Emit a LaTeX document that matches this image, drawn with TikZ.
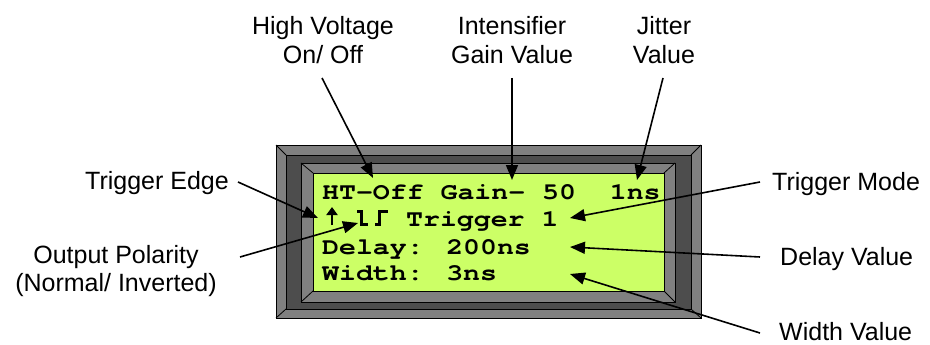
\documentclass[tikz,border=0pt]{standalone}
\usepackage{fontspec}
\usepackage{graphicx}
\setmainfont{Liberation Sans}
\newfontfamily\lcdfont[Ligatures=NoCommon]{TeX Gyre Cursor}
\usetikzlibrary{arrows.meta}
\definecolor{lcdgreen}{HTML}{CCFF66}
\definecolor{bezel}{HTML}{808080}
\definecolor{bezeldark}{HTML}{4D4D4D}
\tikzset{
  lbl/.style={font=\fontsize{25}{28.5}\selectfont, align=center, inner sep=0pt},
  callout/.style={line width=1.6pt, -{Triangle[length=15pt,width=12pt]}},
  lcdtext/.style={anchor=base west, inner sep=0pt, font=\fontsize{23.5}{23.5}\lcdfont\bfseries},
  frameline/.style={draw=black, line width=0.8pt},
  glyphline/.style={line width=3pt, line cap=butt, line join=miter},
}
\newcommand{\lcdstretch}[1]{\scalebox{1.2}[1]{#1}}
\begin{document}
\begin{tikzpicture}[x=1pt,y=-1pt]
\useasboundingbox (0,0) rectangle (930,345);
% bezel
\fill[bezel] (276,145) rectangle (701,318);
\draw[frameline] (276,145) rectangle (701,318);
\fill[bezeldark] (286,155) rectangle (691,309);
\draw[frameline] (286,155) rectangle (691,309);
\draw[frameline] (276,145) -- (286,155) (701,145) -- (691,155)
  (276,318) -- (286,309) (701,318) -- (691,309);
\fill[bezel] (301,163) rectangle (675,302);
\draw[frameline] (301,163) rectangle (675,302);
\fill[lcdgreen] (313,173) rectangle (664,291);
\draw[frameline] (313,173) rectangle (664,291);
\draw[frameline] (301,163) -- (313,173) (675,163) -- (664,173)
  (301,302) -- (313,291) (675,302) -- (664,291);
% LCD text
\node[lcdtext] (lcdA) at (322,199) {\lcdstretch{HT-Off Gain- 50\ \ 1ns}};
\node[lcdtext] (lcdB) at (406,226) {\lcdstretch{Trigger 1}};
\node[lcdtext] (lcdC) at (322,254) {\lcdstretch{Delay: 200ns}};
\node[lcdtext] (lcdD) at (322,280) {\lcdstretch{Width: 3ns}};
% edge arrow glyph and pulse glyph
\coordinate (edgeLo) at (332,225);
\coordinate (edgeHi) at (332,207);
\draw[line width=2.6pt, -{Triangle[length=8pt,width=11pt]}] (edgeLo) -- (edgeHi);
\draw[glyphline] (357,211) -- (361,211) -- (361,224) -- (368,224);
\draw[glyphline] (375,224) -- (379,224) -- (379,211) -- (388,211);
% labels
\node[lbl] (hv) at (323,40) {High Voltage\\On/ Off};
\node[lbl] (gain) at (512,40) {Intensifier\\Gain Value};
\node[lbl] (jit) at (664,40) {Jitter\\Value};
\node[lbl, anchor=base east] (tedge) at (229,189) {Trigger Edge};
\node[lbl] (opol) at (116,271) {Output Polarity\\(Normal/ Inverted)};
\node[lbl, anchor=base west] (tmode) at (772,190) {Trigger Mode};
\node[lbl, anchor=base west] (dval) at (780,265) {Delay Value};
\node[lbl, anchor=base west] (wval) at (779,340) {Width Value};
% callout ends
\coordinate (hvS) at (322,78);   \coordinate (hvT) at (373,178);
\coordinate (gS) at (512,78);    \coordinate (gT) at (512,180);
\coordinate (jS) at (663,78);    \coordinate (jT) at (637,180);
\coordinate (teS) at (238,182);  \coordinate (teT) at (318,218);
\coordinate (opS) at (240,257);  \coordinate (opT) at (358,223);
\coordinate (tmS) at (760,182);  \coordinate (tmT) at (570,218);
\coordinate (dS) at (760,257);   \coordinate (dT) at (570,247);
\coordinate (wS) at (760,333);   \coordinate (wT) at (570,274);
\draw[callout] (hvS) -- (hvT);
\draw[callout] (gS) -- (gT);
\draw[callout] (jS) -- (jT);
\draw[callout] (teS) -- (teT);
\draw[callout] (opS) -- (opT);
\draw[callout] (tmS) -- (tmT);
\draw[callout] (dS) -- (dT);
\draw[callout] (wS) -- (wT);
\end{tikzpicture}
\end{document}
